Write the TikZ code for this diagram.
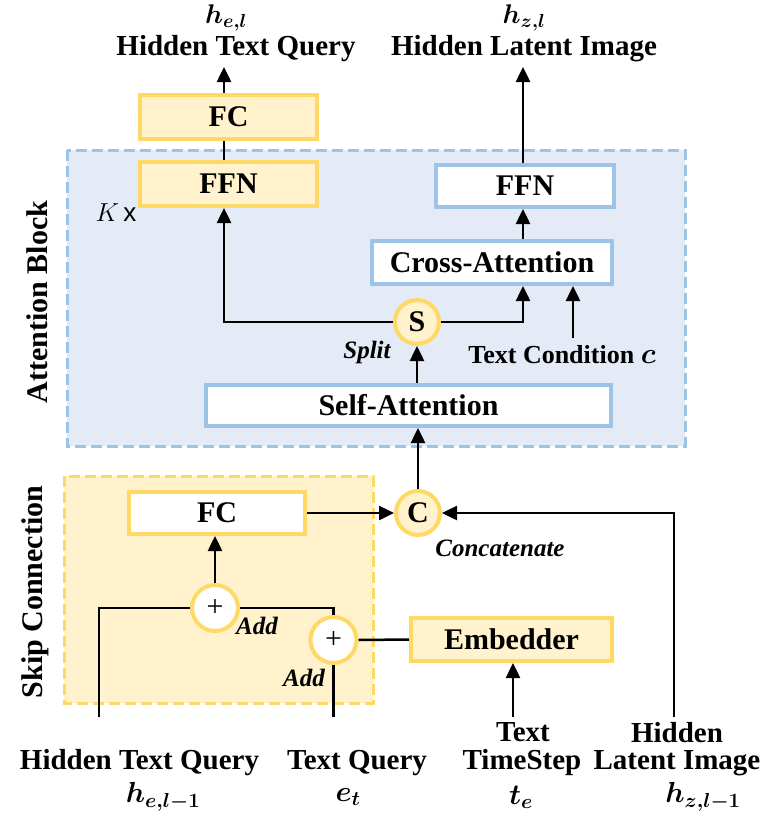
\RequirePackage{fix-cm}
\documentclass[tikz,border=0pt]{standalone}
\usepackage{fontspec}
\setmainfont{Liberation Serif}
\setsansfont{Liberation Sans}
\usepackage{bm}
\usetikzlibrary{arrows.meta,calc}
\definecolor{ybd}{HTML}{FFD966}
\definecolor{yfl}{HTML}{FFF2CC}
\definecolor{bbd}{HTML}{9DC3E6}
\definecolor{bfl}{HTML}{E4EAF6}
\tikzset{
  txt/.style={font=\fontsize{29}{33}\selectfont\bfseries, inner sep=0pt},
  mth/.style={font=\fontsize{29}{33}\selectfont\bfseries, inner sep=0pt},
  lbl/.style={font=\fontsize{25}{29}\selectfont\bfseries\itshape, inner sep=0pt},
  ybox/.style={draw=ybd, fill=yfl, line width=4pt, inner sep=0pt, font=\fontsize{30}{34}\selectfont\bfseries},
  wybox/.style={draw=ybd, fill=white, line width=4pt, inner sep=0pt, font=\fontsize{30}{34}\selectfont\bfseries},
  bbox/.style={draw=bbd, fill=white, line width=4pt, inner sep=0pt, font=\fontsize{30}{34}\selectfont\bfseries},
  ycirc/.style={circle, draw=ybd, fill=yfl, line width=4pt, minimum size=44pt, inner sep=0pt, font=\fontsize{30}{34}\selectfont\bfseries},
  wcirc/.style={circle, draw=ybd, fill=white, line width=4pt, minimum size=46pt, inner sep=0pt, font=\fontsize{30}{34}\selectfont},
  conn/.style={line width=2.5pt, black},
  arr/.style={conn, -{Triangle[length=15pt,width=14pt]}},
}
\begin{document}
\begin{tikzpicture}[x=1pt,y=-1pt]
\useasboundingbox (0,0) rectangle (764,814);
% group backgrounds
\draw[draw=bbd, fill=bfl, line width=3pt, dash pattern=on 11pt off 5pt] (67,150) rectangle (685,446);
\draw[draw=ybd, fill=yfl, line width=3pt, dash pattern=on 11pt off 5pt] (64,476) rectangle (373,703);
\node[txt, font=\fontsize{30}{34}\selectfont\bfseries, rotate=90] (attlbl) at (37,302) {Attention Block};
\node[txt, font=\fontsize{30}{34}\selectfont\bfseries, rotate=90] (skiplbl) at (35,592) {Skip Connection};
% top labels
\node[mth, font=\fontsize{27}{30}\selectfont\bfseries] (hel) at (226,18) {$\bm{h}_{\bm{e,l}}$};
\node[txt] (htq) at (236,49) {Hidden Text Query};
\node[mth, font=\fontsize{27}{30}\selectfont\bfseries] (hzl) at (524,18) {$\bm{h}_{\bm{z,l}}$};
\node[txt] (hli) at (524,49) {Hidden Latent Image};
\coordinate (topL) at (224,67);
\coordinate (topR) at (523,67);
% boxes
\node[ybox, minimum width=177pt, minimum height=44pt] (fctop) at (228.5,117) {FC};
\node[ybox, minimum width=177pt, minimum height=44pt] (ffnL) at (228.5,184) {FFN};
\node[bbox, minimum width=178pt, minimum height=42pt] (ffnR) at (525,186) {FFN};
\node[bbox, minimum width=240pt, minimum height=43pt] (cross) at (492,262.5) {Cross-Attention};
\node[ycirc] (S) at (417,322) {S};
\node[bbox, minimum width=405pt, minimum height=41pt] (self) at (408.5,405.5) {Self-Attention};
\node[ycirc] (C) at (418,513) {C};
\node[wybox, minimum width=176pt, minimum height=42pt] (fcskip) at (217,513) {FC};
\node[wcirc] (add1) at (215,608) {+};
\node[wcirc] (add2) at (333.5,640) {+};
\node[ybox, minimum width=201pt, minimum height=43pt] (embed) at (511.5,639.5) {Embedder};
% labels
\node[font=\fontsize{26}{30}\selectfont, inner sep=0pt] (kx) at (116,213) {$K$\,\textsf{x}};
\node[lbl] (split) at (367,352) {Split};
\node[txt, font=\fontsize{26}{30}\selectfont\bfseries] (tcond) at (562,355) {Text Condition {\fontsize{29}{34}\selectfont$\bm{c}$}};
\node[lbl] (concat) at (500,548) {Concatenate};
\node[lbl] (addA) at (257,626) {Add};
\node[lbl] (addB) at (304,678) {Add};
\coordinate (tc) at (573,338);
% bottom inputs
\coordinate (heS) at (99,717);
\coordinate (etS) at (333.5,717);
\coordinate (teS) at (513,717);
\coordinate (hzS) at (674,717);
\node[txt] (b1) at (139.5,763) {Hidden Text Query};
\node[mth] (b1m) at (163,797) {$\bm{h}_{\bm{e,l-1}}$};
\node[txt] (b2) at (357,763) {Text Query};
\node[mth] (b2m) at (348,797) {$\bm{e}_{\bm{t}}$};
\node[txt] (b3a) at (523,732) {Text};
\node[txt] (b3) at (522,763) {TimeStep};
\node[mth] (b3m) at (521,797) {$\bm{t}_{\bm{e}}$};
\node[txt] (b4a) at (677,733) {Hidden};
\node[txt] (b4) at (677,763) {Latent Image};
\node[mth] (b4m) at (703,797) {$\bm{h}_{\bm{z,l-1}}$};
% connectors
\draw[arr] (fctop.north -| topL) -- (topL);
\draw[conn] (ffnL.north -| topL) -- (fctop.south -| topL);
\draw[arr] (ffnR.north -| topR) -- (topR);
\draw[arr] (cross.north -| topR) -- (ffnR.south -| topR);
\draw[arr] (S.east) -| (cross.south -| topR);
\draw[arr] (S.west) -| (ffnL.south -| topL);
\draw[arr] (tc) -- (cross.south -| tc);
\draw[arr] (self.north -| S) -- (S.south);
\draw[arr] (C.north) -- (self.south -| C);
\draw[arr] (fcskip.east) -- (C.west);
\draw[arr] (add1.north) -- (fcskip.south -| add1);
\draw[conn] (heS) |- (add1.west);
\draw[conn] (add1.east) -| (add2.north);
\draw[conn] (add2.south) -- (etS);
\draw[conn] (embed.west) -- (add2.east);
\draw[arr] (teS) -- (embed.south -| teS);
\draw[arr] (hzS) |- (C.east);
\end{tikzpicture}
\end{document}
